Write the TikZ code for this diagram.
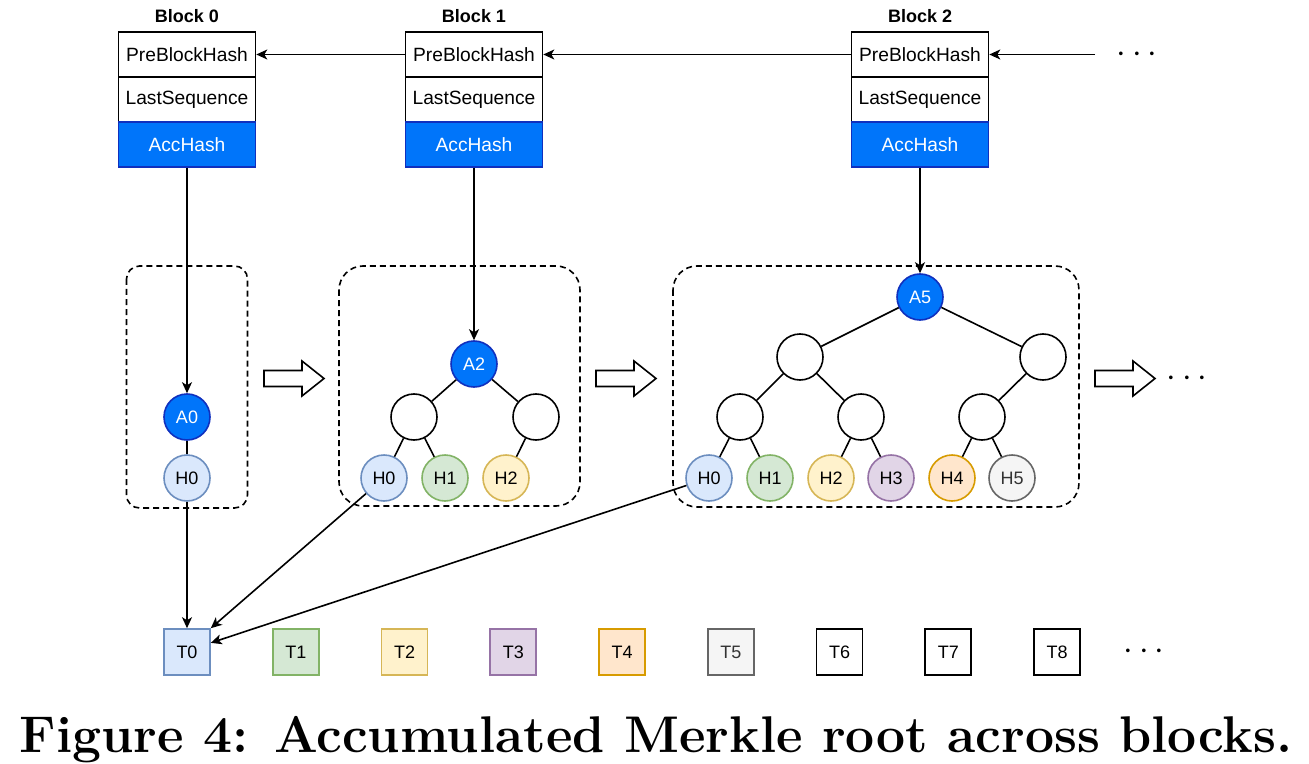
\documentclass[tikz,border=0pt]{standalone}
\usepackage{fontspec}
\newfontfamily\drawfont{Liberation Sans}
\usetikzlibrary{arrows.meta}
\definecolor{accfill}{RGB}{0,117,250}
\definecolor{accline}{RGB}{16,48,190}
\definecolor{hf0}{HTML}{DAE8FC}\definecolor{hd0}{HTML}{6C8EBF}\definecolor{ht0}{HTML}{000000}
\definecolor{hf1}{HTML}{D5E8D4}\definecolor{hd1}{HTML}{82B366}\definecolor{ht1}{HTML}{000000}
\definecolor{hf2}{HTML}{FFF2CC}\definecolor{hd2}{HTML}{D6B656}\definecolor{ht2}{HTML}{000000}
\definecolor{hf3}{HTML}{E1D5E7}\definecolor{hd3}{HTML}{9673A6}\definecolor{ht3}{HTML}{000000}
\definecolor{hf4}{HTML}{FFE6CC}\definecolor{hd4}{HTML}{D79B00}\definecolor{ht4}{HTML}{000000}
\definecolor{hf5}{HTML}{F5F5F5}\definecolor{hd5}{HTML}{666666}\definecolor{ht5}{HTML}{333333}
\definecolor{hf6}{HTML}{FFFFFF}\definecolor{hd6}{HTML}{000000}\definecolor{ht6}{HTML}{000000}
\definecolor{hf7}{HTML}{FFFFFF}\definecolor{hd7}{HTML}{000000}\definecolor{ht7}{HTML}{000000}
\definecolor{hf8}{HTML}{FFFFFF}\definecolor{hd8}{HTML}{000000}\definecolor{ht8}{HTML}{000000}
\tikzset{
  fld/.style={draw, inner sep=0pt, minimum width=68.5pt, minimum height=22.5pt, font=\drawfont\fontsize{9.6}{11}\selectfont},
  acc/.style={fld, fill=accfill, draw=accline, text=white},
  ttl/.style={font=\drawfont\bfseries\fontsize{9}{11}\selectfont},
  v/.style={draw, circle, inner sep=0pt, minimum size=23pt, font=\drawfont\fontsize{9}{11}\selectfont},
  ac/.style={v, fill=accfill, draw=accline, text=white},
  tx/.style={draw, inner sep=0pt, minimum width=23pt, minimum height=23pt, font=\drawfont\fontsize{9}{11}\selectfont},
  e/.style={-{Stealth[length=5.5pt, width=5pt, inset=1.5pt]}},
  grp/.style={draw, dash pattern=on 3pt off 2pt},
  dots/.style={font=\fontsize{17}{20}\selectfont}
}
\newcommand{\fatarrow}[2]{\draw[fill=white] (#1-60,#2-8) -- (#1-22,#2-8) -- (#1-22,#2-17.5) -- (#1,#2) -- (#1-22,#2+17.5) -- (#1-22,#2+8) -- (#1-60,#2+8) -- cycle}

\begin{document}
\begin{tikzpicture}[x=0.5pt, y=-0.5pt, line width=0.8pt]
  \useasboundingbox (0,0) rectangle (1309,764);

  % blocks
  \foreach \i/\x in {0/187, 1/474, 2/920} {
    \node[ttl] (b\i) at (\x,16) {Block \i};
    \node[fld] (p\i) at (\x,54.5) {PreBlockHash};
    \node[fld] (l\i) at (\x,99.5) {LastSequence};
    \node[acc] (acc\i) at (\x,144.5) {AccHash};
  }
  \coordinate (nx) at (1095,54.5);
  \draw[e] (nx) -- (p2);
  \draw[e] (p2) -- (p1);
  \draw[e] (p1) -- (p0);
  \node[dots] (d0) at (1137,54.5) {$\cdots$};

  \draw[grp, rounded corners=6.5pt] (126.5,266) rectangle (247.5,508);
  \draw[grp, rounded corners=12pt] (339,266) rectangle (580,506);
  \draw[grp, rounded corners=12pt] (673,266) rectangle (1079,507);

  % tree after block 0
  \node[ac] (a0) at (187,417) {A0};
  \node[v, fill=hf0, draw=hd0] (ha0) at (187,478) {H0};
  \draw (a0) -- (ha0);
  \draw[e] (acc0) -- (a0);

  % tree after block 1
  \node[ac] (a2) at (474,364) {A2};
  \node[v] (m1) at (414,417) {};
  \node[v] (m2) at (536,417) {};
  \foreach \i/\x in {0/384, 1/445, 2/506}
    \node[v, fill=hf\i, draw=hd\i] (hb\i) at (\x,478) {H\i};
  \draw (a2) -- (m1) (a2) -- (m2) (m1) -- (hb0) (m1) -- (hb1) (m2) -- (hb2);
  \draw[e] (acc1) -- (a2);

  % tree after block 2
  \node[ac] (a5) at (920,297) {A5};
  \node[v] (k1) at (800,357) {};
  \node[v] (k2) at (1043,357) {};
  \node[v] (j1) at (740,417) {};
  \node[v] (j2) at (861,417) {};
  \node[v] (j3) at (982,417) {};
  \foreach \i/\x in {0/709, 1/770, 2/831, 3/891, 4/952, 5/1012}
    \node[v, fill=hf\i, draw=hd\i, text=ht\i] (hc\i) at (\x,478) {H\i};
  \draw (a5) -- (k1) (a5) -- (k2) (k1) -- (j1) (k1) -- (j2) (k2) -- (j3);
  \draw (j1) -- (hc0) (j1) -- (hc1) (j2) -- (hc2) (j2) -- (hc3) (j3) -- (hc4) (j3) -- (hc5);
  \draw[e] (acc2) -- (a5);

  \fatarrow{324}{378.5};
  \fatarrow{656}{378.5};
  \fatarrow{1155}{378.5};
  \node[dots] (d1) at (1187,378.5) {$\cdots$};

  % transactions
  \foreach \i in {0,...,8}
    \node[tx, fill=hf\i, draw=hd\i, text=ht\i] (t\i) at ({187+108.75*\i},652) {T\i};
  \node[dots] (d2) at (1144,652) {$\cdots$};
  \draw[e] (ha0) -- (t0);
  \draw[e] (hb0) -- (t0.north east);
  \draw[e] (hc0) -- (t0.21);

  \node[font=\fontsize{25.8}{30}\selectfont\bfseries, anchor=base] (cap) at (656,752) {Figure 4: Accumulated Merkle root across blocks.};
\end{tikzpicture}
\end{document}
